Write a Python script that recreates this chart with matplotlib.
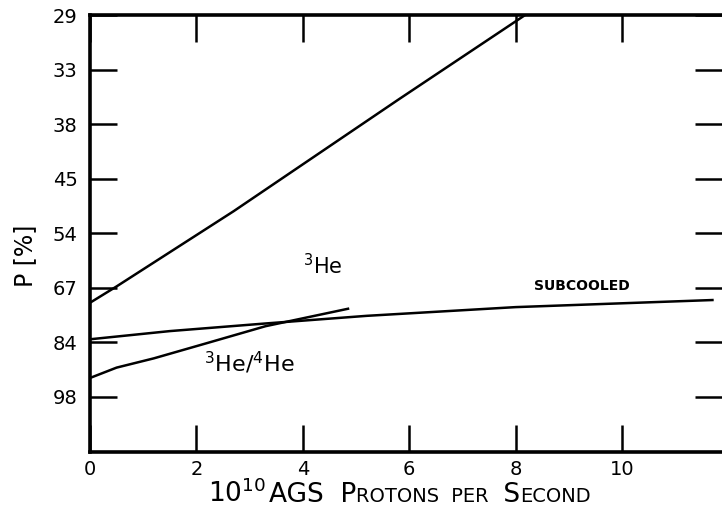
import matplotlib

matplotlib.use("Agg")
from matplotlib import pyplot as plt
from matplotlib.offsetbox import AnchoredOffsetbox, HPacker, TextArea

# y axis labels are evenly spaced positions (index 0 = top)
y_tick_labels = ["29", "33", "38", "45", "54", "67", "84", "98"]
x_ticks = [0, 2, 4, 6, 8, 10]

# 3He curve (x in 1e10 protons/s, y in tick-index units)
he3_x = [0.0, 0.5, 2.7, 5.8, 8.18]
he3_y = [5.28, 4.98, 3.60, 1.55, 0.0]

# 3He/4He mixture curve
mix_x = [0.0, 0.5, 1.2, 2.2, 3.3, 4.85]
mix_y = [6.66, 6.47, 6.30, 6.02, 5.71, 5.39]

# subcooled curve
sub_x = [0.0, 1.5, 3.3, 5.2, 8.0, 11.7]
sub_y = [5.95, 5.80, 5.66, 5.52, 5.36, 5.23]

plt.rcParams["font.family"] = ["DejaVu Sans"]

fig = plt.figure(figsize=(7.22, 5.11), dpi=100)
ax = fig.add_axes([90 / 722, 1 - 452 / 511, 1 - 90 / 722, (452 - 15) / 511])

lw = 1.8
ax.plot(he3_x, he3_y, color="k", lw=lw)
ax.plot(mix_x, mix_y, color="k", lw=lw)
ax.plot(sub_x, sub_y, color="k", lw=lw)

ax.text(4.0, 4.75, "$^{3}$He", fontsize=15)
ax.text(2.15, 6.55, "$^{3}$He/$^{4}$He", fontsize=16)
ax.text(8.35, 5.05, "SUBCOOLED", fontsize=10, fontweight="bold")

ax.set_xlim(0, (722 - 90) / 53.2)
ax.set_ylim((452 - 15) / 54.5, 0)

ax.set_xticks(x_ticks)
ax.set_xticklabels([str(v) for v in x_ticks], fontsize=14)
ax.set_yticks(range(len(y_tick_labels)))
ax.set_yticklabels(y_tick_labels, fontsize=14)

ax.tick_params(axis="both", direction="in", length=19.5, width=1.8,
               top=True, right=True)
ax.tick_params(axis="x", pad=6)
ax.tick_params(axis="y", pad=9)

for side in ["left", "bottom", "top"]:
    ax.spines[side].set_linewidth(2.6)
ax.spines["right"].set_visible(False)

# x label in small caps, built from pieces of two sizes
big, small = 19, 14
pieces = [
    ("10$^{10}$ ", big), ("AGS ", big), (" P", big), ("ROTONS ", small),
    (" PER ", small), (" S", big), ("ECOND", small),
]
areas = [TextArea(s, textprops=dict(fontsize=fs)) for s, fs in pieces]
label_box = HPacker(children=areas, align="baseline", pad=0, sep=0)
anchored = AnchoredOffsetbox(loc="upper center", child=label_box, pad=0,
                             borderpad=0, frameon=False,
                             bbox_to_anchor=(0.49, -0.062),
                             bbox_transform=ax.transAxes)
ax.add_artist(anchored)

ax.set_ylabel("P [%]", fontsize=17)
ax.yaxis.set_label_coords(-0.084, 0.45)

fig.savefig("out.png", dpi=100)
